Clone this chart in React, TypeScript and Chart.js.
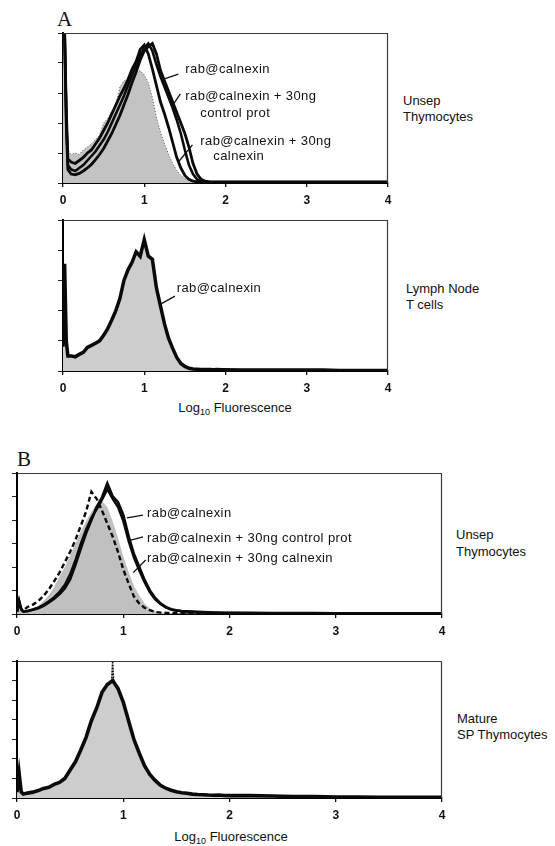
import React, { useEffect, useRef } from "react";
import { Chart, registerables } from "chart.js";
Chart.register(...registerables);

// Log10 fluorescence channels (shared x positions for every histogram)
const LOG_FLUORESCENCE = [
  0, 0.02, 0.04, 0.06,
  0.1, 0.15, 0.2, 0.25, 0.3, 0.35, 0.4, 0.45,
  0.5, 0.55, 0.6, 0.65, 0.7, 0.75, 0.8, 0.85,
  0.9, 0.95, 1.0, 1.05, 1.1, 1.15, 1.2, 1.25,
  1.3, 1.35, 1.4, 1.45, 1.5, 1.55, 1.6, 1.65,
  1.7, 1.75, 1.8, 1.85, 1.9, 1.95, 2.0,
  2.2, 2.4, 2.6, 2.8, 3.0, 3.2, 3.4, 3.6, 3.8, 4.0,
];
const X_TICKS = [0, 1, 2, 3, 4];

// Panel A, unseparated thymocytes (y in tick units, 0..5)
const A1_SHADED = [
  5.0, 5.0, 2.0, 1.1,
  0.95, 1.0, 0.95, 1.1, 1.2, 1.3, 1.45, 1.6,
  2.0, 2.15, 2.4, 2.6, 3.2, 3.4, 3.5, 3.65,
  3.7, 3.75, 3.6, 3.35, 2.85, 2.2, 1.7, 1.3,
  0.95, 0.65, 0.42, 0.26, 0.15, 0.08, 0.05, 0.04,
  0.03, 0.03, 0.03, 0.02, 0.02, 0.02, 0.02,
  0.02, 0.02, 0.02, 0.02, 0.02, 0.02, 0.02, 0.02, 0.02, 0.02,
];
const A1_CALNEXIN = [
  5.0, 5.0, 2.5, 0.8,
  0.7, 0.65, 0.75, 0.85, 1.0, 1.1, 1.3, 1.5,
  1.75, 2.0, 2.3, 2.6, 2.9, 3.15, 3.45, 3.8,
  4.05, 4.45, 4.6, 4.3, 3.8, 3.25, 2.7, 2.3,
  1.85, 1.35, 0.85, 0.5, 0.25, 0.12, 0.06, 0.04,
  0.03, 0.03, 0.03, 0.03, 0.03, 0.03, 0.03,
  0.03, 0.03, 0.03, 0.03, 0.03, 0.03, 0.03, 0.03, 0.03, 0.03,
];
const A1_CONTROL = [
  5.0, 5.0, 2.2, 0.6,
  0.45, 0.4, 0.5, 0.6, 0.75, 0.9, 1.05, 1.25,
  1.45, 1.7, 2.0, 2.3, 2.6, 2.9, 3.25, 3.6,
  3.9, 4.25, 4.5, 4.65, 4.4, 3.95, 3.55, 3.2,
  2.85, 2.5, 2.1, 1.65, 1.1, 0.6, 0.3, 0.12,
  0.06, 0.04, 0.03, 0.03, 0.03, 0.03, 0.03,
  0.03, 0.03, 0.03, 0.03, 0.03, 0.03, 0.03, 0.03, 0.03, 0.03,
];
const A1_RAB = [
  5.0, 5.0, 2.0, 0.45,
  0.3, 0.27, 0.32, 0.4, 0.5, 0.62, 0.78, 0.95,
  1.15, 1.4, 1.65, 1.95, 2.25, 2.6, 2.95, 3.35,
  3.7, 4.1, 4.4, 4.55, 4.65, 4.3, 3.75, 3.4,
  3.05, 2.7, 2.35, 2.0, 1.65, 1.2, 0.65, 0.3,
  0.12, 0.06, 0.04, 0.03, 0.03, 0.03, 0.03,
  0.03, 0.03, 0.03, 0.03, 0.03, 0.03, 0.03, 0.03, 0.03, 0.03,
];

// Panel A, lymph node T cells (0..5)
const A2_RAB = [
  0.8, 3.55, 1.0, 0.5,
  0.5, 0.47, 0.55, 0.62, 0.78, 0.85, 0.92, 1.0,
  1.18, 1.4, 1.69, 2.0, 2.4, 3.0, 3.35, 3.6,
  3.95, 3.8, 4.35, 3.8, 3.7, 2.75, 2.15, 1.55,
  1.08, 0.75, 0.45, 0.25, 0.15, 0.09, 0.07, 0.06,
  0.05, 0.05, 0.05, 0.04, 0.05, 0.04, 0.04,
  0.03, 0.03, 0.03, 0.03, 0.03, 0.03, 0.02, 0.02, 0.02, 0.02,
];

// Panel B, unseparated thymocytes (0..6)
const B1_SHADED = [
  0.1, 0.5, 0.15, 0.1,
  0.12, 0.2, 0.35, 0.55, 0.8, 1.15, 1.6, 2.0,
  2.5, 3.0, 3.5, 3.95, 4.35, 4.65, 4.8, 4.55,
  3.95, 3.25, 2.45, 1.8, 1.2, 0.8, 0.45, 0.25,
  0.12, 0.07, 0.05, 0.04, 0.03, 0.03, 0.02, 0.02,
  0.02, 0.02, 0.02, 0.02, 0.02, 0.02, 0.02,
  0.02, 0.02, 0.02, 0.02, 0.02, 0.02, 0.02, 0.02, 0.02, 0.02,
];
const B1_CALNEXIN = [
  0.1, 0.55, 0.2, 0.15,
  0.3, 0.4, 0.55, 0.77, 1.05, 1.4, 1.76, 2.2,
  2.65, 3.15, 3.75, 4.35, 5.2, 4.9, 4.4, 3.85,
  3.3, 2.65, 1.9, 1.3, 0.75, 0.45, 0.27, 0.16,
  0.09, 0.06, 0.05, 0.04, 0.04, 0.04, 0.04, 0.03,
  0.03, 0.03, 0.03, 0.03, 0.03, 0.03, 0.03,
  0.03, 0.03, 0.03, 0.03, 0.03, 0.03, 0.03, 0.03, 0.03, 0.03,
];
const B1_RAB = [
  0.1, 0.55, 0.2, 0.1,
  0.12, 0.18, 0.25, 0.35, 0.5, 0.65, 0.85, 1.1,
  1.48, 2.1, 2.8, 3.45, 4.0, 4.55, 4.95, 5.55,
  5.0, 4.75, 4.2, 3.3, 2.55, 2.0, 1.45, 1.0,
  0.68, 0.45, 0.3, 0.2, 0.15, 0.12, 0.11, 0.1,
  0.09, 0.08, 0.07, 0.06, 0.06, 0.05, 0.05,
  0.05, 0.04, 0.04, 0.04, 0.03, 0.03, 0.03, 0.03, 0.03, 0.03,
];
const B1_CONTROL = [
  0.1, 0.5, 0.2, 0.1,
  0.14, 0.2, 0.28, 0.4, 0.55, 0.72, 0.95, 1.25,
  1.7, 2.3, 3.0, 3.6, 4.1, 4.45, 4.85, 5.3,
  4.9, 4.55, 3.95, 3.1, 2.4, 1.85, 1.35, 0.92,
  0.62, 0.42, 0.28, 0.19, 0.14, 0.12, 0.1, 0.09,
  0.08, 0.07, 0.06, 0.06, 0.05, 0.05, 0.05,
  0.04, 0.04, 0.04, 0.03, 0.03, 0.03, 0.03, 0.03, 0.03, 0.03,
];

// Panel B, mature SP thymocytes (0..7)
const B2_RAB = [
  0.3, 1.26, 0.3, 0.2,
  0.25, 0.3, 0.38, 0.49, 0.55, 0.7, 0.8, 1.0,
  1.43, 1.85, 2.45, 3.1, 3.95, 4.6, 5.4, 5.8,
  6.0, 5.6, 4.9, 3.95, 3.0, 2.3, 1.65, 1.2,
  0.9, 0.65, 0.5, 0.4, 0.32, 0.27, 0.24, 0.2,
  0.18, 0.17, 0.15, 0.14, 0.15, 0.13, 0.12,
  0.12, 0.1, 0.08, 0.07, 0.05, 0.05, 0.04, 0.04, 0.03, 0.03,
];
const B2_PEAK_X = [0.89, 0.9, 0.91];
const B2_PEAK_Y = [5.95, 7.0, 5.9];

const SANS = '"Liberation Sans", Arial, Helvetica, sans-serif';
const LABEL_FONT = `13px ${SANS}`;
const PAD_L = 12;
const PAD_T = 4;
const PAD_R = 8;
const PAD_B = 26;

type Note = { x: number; y: number; text: string };
type Leader = { x1: number; y1: number; x2: number; y2: number };
type Area = { left: number; top: number; right: number; bottom: number };

const pts = (xs: number[], ys: number[]) => xs.map((x, i) => ({ x, y: ys[i] }));

function notesPlugin(notes: Note[], leaders: Leader[]) {
  return {
    id: "notes",
    afterDatasetsDraw(chart: any) {
      const { ctx, chartArea, scales } = chart;
      const px = (v: number) => scales.x.getPixelForValue(v);
      const py = (v: number) => scales.y.getPixelForValue(v);
      ctx.save();
      ctx.strokeStyle = "#3a3a3a";
      ctx.lineWidth = 1.2;
      ctx.beginPath();
      ctx.moveTo(chartArea.left, chartArea.top + 0.5);
      ctx.lineTo(chartArea.right - 0.5, chartArea.top + 0.5);
      ctx.lineTo(chartArea.right - 0.5, chartArea.bottom);
      ctx.stroke();
      ctx.strokeStyle = "#111";
      ctx.lineWidth = 1.3;
      leaders.forEach((l) => {
        ctx.beginPath();
        ctx.moveTo(px(l.x1), py(l.y1));
        ctx.lineTo(px(l.x2), py(l.y2));
        ctx.stroke();
      });
      ctx.fillStyle = "#111";
      ctx.font = LABEL_FONT;
      ctx.textAlign = "left";
      ctx.textBaseline = "middle";
      (ctx as any).letterSpacing = "0.4px";
      notes.forEach((n) => ctx.fillText(n.text, px(n.x), py(n.y)));
      ctx.restore();
    },
  };
}

function Panel(props: { area: Area; yMax: number; datasets: any[]; notes: Note[]; leaders: Leader[] }) {
  const { area, yMax, datasets, notes, leaders } = props;
  const ref = useRef<HTMLCanvasElement>(null);
  const w = area.right - area.left + PAD_L + PAD_R;
  const h = area.bottom - area.top + PAD_T + PAD_B;
  useEffect(() => {
    const chart = new Chart(ref.current as HTMLCanvasElement, {
      type: "line",
      data: { datasets },
      options: {
        responsive: false,
        animation: false,
        layout: { padding: { left: 0, top: PAD_T, right: PAD_R, bottom: 0 } },
        plugins: { legend: { display: false }, tooltip: { enabled: false } },
        elements: { point: { radius: 0 }, line: { tension: 0 } },
        scales: {
          x: {
            type: "linear",
            min: 0,
            max: 4,
            afterFit: (s: any) => {
              s.height = PAD_B;
              s.paddingLeft = 0;
              s.paddingRight = 0;
            },
            afterBuildTicks: (s: any) => {
              s.ticks = X_TICKS.map((v) => ({ value: v }));
            },
            ticks: {
              color: "#111",
              font: { family: SANS, size: 12, weight: "bold" },
              padding: 6,
              maxRotation: 0,
              autoSkip: false,
            },
            grid: { drawOnChartArea: false, drawTicks: true, tickLength: 4, color: "#111", lineWidth: 1.3 },
            border: { display: true, color: "#000", width: 2 },
          },
          y: {
            min: 0,
            max: yMax,
            afterFit: (s: any) => {
              s.width = PAD_L;
              s.paddingTop = 0;
              s.paddingBottom = 0;
            },
            ticks: { stepSize: 1, callback: () => "", padding: 0 },
            grid: { drawOnChartArea: false, drawTicks: true, tickLength: 5, color: "#222", lineWidth: 1 },
            border: { display: true, color: "#000", width: 2 },
          },
        },
      } as any,
      plugins: [notesPlugin(notes, leaders)],
    });
    return () => chart.destroy();
  }, []);
  return (
    <canvas
      ref={ref}
      width={w}
      height={h}
      style={{ position: "absolute", left: area.left - PAD_L, top: area.top - PAD_T, width: w, height: h }}
    />
  );
}

const shaded = (ys: number[], color: string, outline: boolean) => ({
  data: pts(LOG_FLUORESCENCE, ys),
  fill: "origin",
  backgroundColor: color,
  borderColor: outline ? "#555" : color,
  borderWidth: outline ? 1 : 0,
  borderDash: outline ? [1, 2] : [],
  order: 10,
});
const solid = (ys: number[], width: number, order: number, dash: number[] = []) => ({
  data: pts(LOG_FLUORESCENCE, ys),
  fill: false,
  borderColor: "#0a0a0a",
  borderWidth: width,
  borderDash: dash,
  order,
});

const A1_DATASETS = [
  shaded(A1_SHADED, "#c3c3c3", true),
  solid(A1_CALNEXIN, 2.8, 3),
  solid(A1_CONTROL, 2.6, 2),
  solid(A1_RAB, 2.8, 1),
];
const A2_DATASETS = [
  { ...shaded(A2_RAB, "#cdcdcd", false) },
  solid(A2_RAB, 3.5, 1),
];
const B1_DATASETS = [
  shaded(B1_SHADED, "#c0c0c0", false),
  solid(B1_CALNEXIN, 2.4, 3, [5, 3]),
  solid(B1_CONTROL, 2.2, 2),
  solid(B1_RAB, 2.8, 1),
];
const B2_DATASETS = [
  { ...shaded(B2_RAB, "#cdcdcd", false) },
  solid(B2_RAB, 3.6, 1),
  { data: pts(B2_PEAK_X, B2_PEAK_Y), fill: false, borderColor: "#000", borderWidth: 1.4, borderDash: [2, 1], order: 0 },
];

const A1_NOTES: Note[] = [
  { x: 1.506, y: 3.77, text: "rab@calnexin" },
  { x: 1.506, y: 2.87, text: "rab@calnexin + 30ng" },
  { x: 1.69, y: 2.33, text: "control prot" },
  { x: 1.69, y: 1.37, text: "rab@calnexin + 30ng" },
  { x: 1.85, y: 0.9, text: "calnexin" },
];
const A1_LEADERS: Leader[] = [
  { x1: 1.42, y1: 3.63, x2: 1.247, y2: 3.47 },
  { x1: 1.444, y1: 2.97, x2: 1.346, y2: 2.57 },
  { x1: 1.593, y1: 1.27, x2: 1.42, y2: 0.7 },
];
const A2_NOTES: Note[] = [{ x: 1.4, y: 2.72, text: "rab@calnexin" }];
const A2_LEADERS: Leader[] = [{ x1: 1.378, y1: 2.48, x2: 1.19, y2: 2.2 }];
const B1_NOTES: Note[] = [
  { x: 1.224, y: 4.26, text: "rab@calnexin" },
  { x: 1.224, y: 3.23, text: "rab@calnexin + 30ng control prot" },
  { x: 1.224, y: 2.38, text: "rab@calnexin + 30ng calnexin" },
];
const B1_LEADERS: Leader[] = [
  { x1: 1.186, y1: 4.21, x2: 1.035, y2: 4.09 },
  { x1: 1.186, y1: 3.28, x2: 1.045, y2: 3.11 },
  { x1: 1.211, y1: 2.3, x2: 1.094, y2: 1.76 },
];

const sideStyle = (left: number, top: number, lh: number): React.CSSProperties => ({
  position: "absolute",
  left,
  top,
  font: `13px ${SANS}`,
  lineHeight: `${lh}px`,
  color: "#111",
  whiteSpace: "nowrap",
});
const letterStyle = (left: number, top: number): React.CSSProperties => ({
  position: "absolute",
  left,
  top,
  font: '21px "Liberation Serif", "Times New Roman", serif',
  lineHeight: "20px",
  color: "#111",
});
const titleStyle = (cx: number, top: number): React.CSSProperties => ({
  position: "absolute",
  left: cx - 100,
  top,
  width: 200,
  textAlign: "center",
  font: `13px ${SANS}`,
  lineHeight: "16px",
  color: "#111",
  whiteSpace: "nowrap",
});

function AxisTitle(props: { cx: number; top: number }) {
  return (
    <div style={titleStyle(props.cx, props.top)}>
      Log<span style={{ fontSize: 9, position: "relative", top: 3 }}>10</span> Fluorescence
    </div>
  );
}

export default function App() {
  return (
    <div style={{ position: "absolute", left: 0, top: 0, width: 555, height: 846, background: "#fff", overflow: "hidden" }}>
      <div style={letterStyle(57, 9)}>A</div>
      <div style={letterStyle(17, 449)}>B</div>
      <Panel area={{ left: 63, top: 33, right: 388, bottom: 183 }} yMax={5} datasets={A1_DATASETS} notes={A1_NOTES} leaders={A1_LEADERS} />
      <Panel area={{ left: 63, top: 220, right: 388, bottom: 371 }} yMax={5} datasets={A2_DATASETS} notes={A2_NOTES} leaders={A2_LEADERS} />
      <Panel area={{ left: 17, top: 473, right: 442, bottom: 614 }} yMax={6} datasets={B1_DATASETS} notes={B1_NOTES} leaders={B1_LEADERS} />
      <Panel area={{ left: 17, top: 661, right: 442, bottom: 798 }} yMax={7} datasets={B2_DATASETS} notes={[]} leaders={[]} />
      <div style={sideStyle(403, 93, 15.5)}>Unsep<br />Thymocytes</div>
      <div style={sideStyle(406, 281, 15.5)}>Lymph Node<br />T cells</div>
      <div style={sideStyle(456, 526, 17)}>Unsep<br />Thymocytes</div>
      <div style={sideStyle(457, 711, 16)}>Mature<br />SP Thymocytes</div>
      <AxisTitle cx={235} top={400} />
      <AxisTitle cx={231} top={829} />
    </div>
  );
}
